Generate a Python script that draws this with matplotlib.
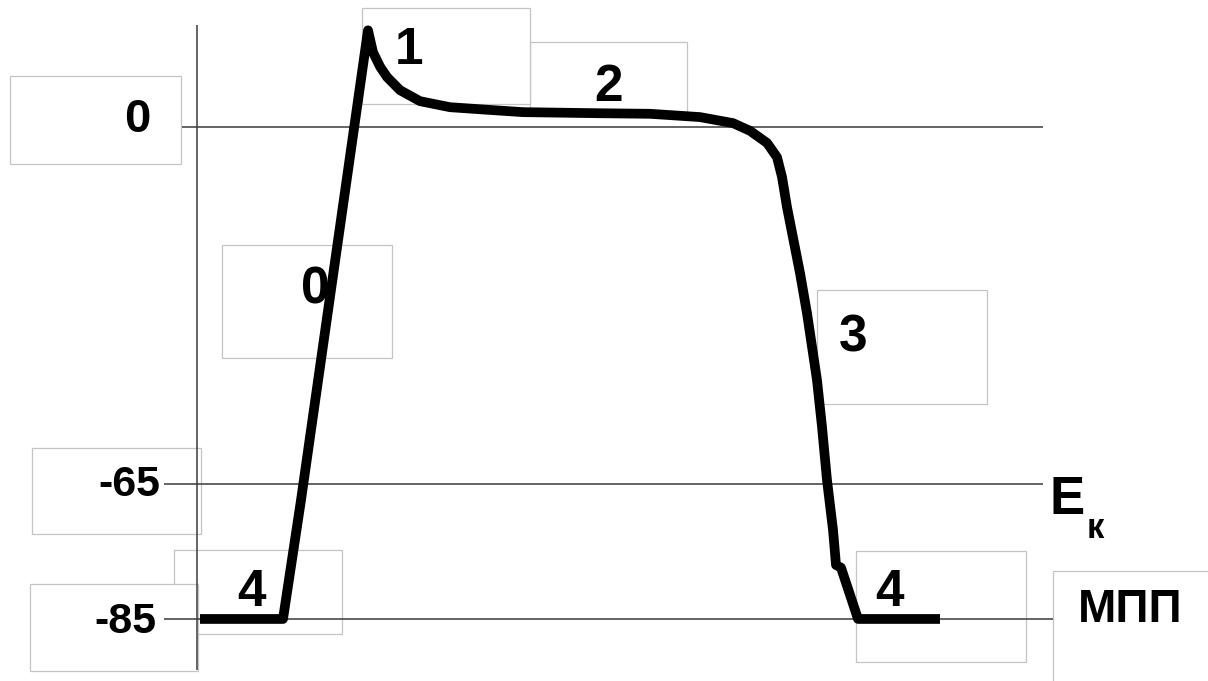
import numpy as np
import matplotlib
matplotlib.use("Agg")
import matplotlib.pyplot as plt
from matplotlib.patches import Rectangle

plt.rcParams['font.family'] = ['Liberation Sans', 'DejaVu Sans']
plt.rcParams['font.weight'] = 'bold'

# action potential (time in ms, membrane potential in mV)
t_ms = [1.5, 43, 52, 85.5, 88, 91.5, 95, 101.5, 111.5, 126.5, 146.5, 163, 201.5,
        226.5, 251.5, 268, 276.5, 285, 290, 292.5, 295, 301.5, 305, 310, 312.5,
        315, 318, 319.5, 322, 330.5, 371.5]
v_mv = [-85, -85, -67.4, 17.6, 13.6, 11.0, 9.1, 6.7, 4.7, 3.6, 3.1, 2.7, 2.5,
        2.4, 1.8, 0.7, -0.7, -2.9, -5.5, -9.1, -14.6, -26.6, -33.9, -46.1, -54.6,
        -64.3, -71.8, -77.0, -77.4, -85, -85]

# reference levels and how far their lines run
levels = [0, -65, -85]
level_labels = ['0', '-65', '-85']
level_x0 = [-7.5, -16.5, -16.5]
level_x1 = [423, 423, 428]

# phase numbers: (label, time, mV)
phase_labels = ['0', '1', '2', '3', '4', '4']
phase_t = [59, 106, 205.5, 328, 27, 346.5]
phase_v = [-29.7, 14.0, 7.1, -38.4, -81.1, -81.1]

W, H = 1208, 681

# the schematic is drawn with a different mV/px scale below -65 mV
mv_anchor = np.array([-200.0, -85.0, -65.0, 0.0, 100.0])
px_anchor = np.array([62 - 115 * 6.75, 62.0, 197.0, 554.0, 554 + 100 * 5.492])


def fwd(v):
    return np.interp(v, mv_anchor, px_anchor)


def inv(p):
    return np.interp(p, px_anchor, mv_anchor)


fig = plt.figure(figsize=(W / 100, H / 100), dpi=100)
ax = fig.add_axes([0, 0, 1, 1])
ax.set_yscale('function', functions=(fwd, inv))
ax.set_xlim(-98.5, 505.5)
ax.set_ylim(-94.19, 23.12)
ax.axis('off')


def box(x0, y0, x1, y1, z=1):
    # pixel box (top-left origin) as figure fraction
    ax.add_patch(Rectangle((x0 / W, 1 - y1 / H), (x1 - x0) / W, (y1 - y0) / H,
                           transform=ax.transAxes, facecolor='white',
                           edgecolor='#c4c4c4', linewidth=0.9, zorder=z))


# label frames
box(530, 42, 687, 113, 1)
box(362, 8, 530, 104, 2)
box(10, 76, 181, 164, 1)
box(222, 245, 392, 358, 1)
box(817, 290, 987, 404, 1)
box(32, 448, 201, 534, 1)
box(174, 550, 342, 634, 1)
box(30, 584, 198, 671, 2)
box(856, 551, 1026, 662, 1)
box(1053, 571, 1230, 700, 1)

# reference lines and vertical axis
ax.hlines(levels, level_x0, level_x1, color='#3a3a3a', linewidth=1.1, zorder=3)
ax.vlines(0, -92.6, 18.6, color='#3a3a3a', linewidth=1.1, zorder=3)

tr = ax.get_yaxis_transform()
label_right = [150 / W, 160 / W, 157 / W]
label_dy = [1.3, -0.2, -0.4]
label_size = [34, 31, 31]
for lab, lv, xr, dy, fs in zip(level_labels, levels, label_right, label_dy, label_size):
    ax.text(xr, lv + dy, lab, transform=tr, ha='right', va='center',
            fontsize=fs, fontweight='bold', zorder=5)

for lab, tt, vv in zip(phase_labels, phase_t, phase_v):
    ax.text(tt, vv, lab, ha='center', va='center', fontsize=37,
            fontweight='bold', zorder=3.5)

ax.plot(t_ms, v_mv, color='black', linewidth=7, solid_capstyle='butt',
        solid_joinstyle='round', zorder=4)

ax.text(1067 / W, 1 - 500 / H, 'E', transform=ax.transAxes, ha='center',
        va='center', fontsize=38, fontweight='bold', zorder=5)
ax.text(1095 / W, 1 - 528 / H, 'к', transform=ax.transAxes, ha='center',
        va='center', fontsize=25, fontweight='bold', zorder=5)
ax.text(1130 / W, 1 - 610 / H, 'МПП', transform=ax.transAxes, ha='center',
        va='center', fontsize=33, fontweight='bold', zorder=5)

fig.savefig('out.png', dpi=100, facecolor='white')
